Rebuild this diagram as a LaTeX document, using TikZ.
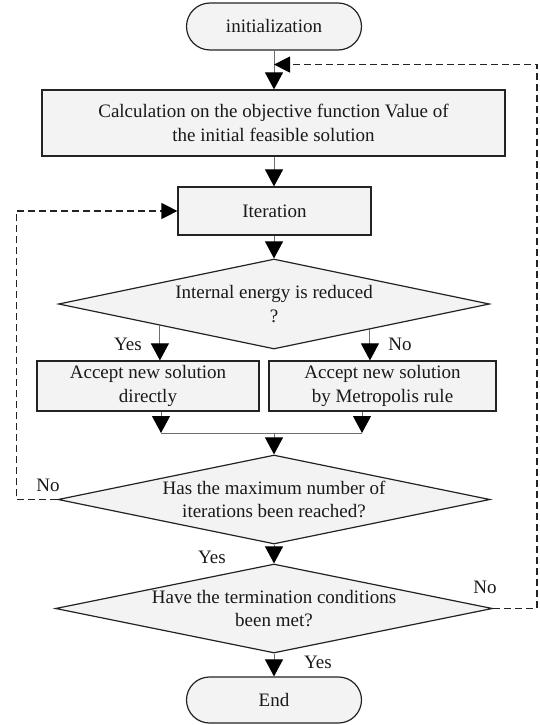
\documentclass[tikz,border=0pt]{standalone}
\usepackage{fontspec}
\setmainfont{Liberation Serif}
\usetikzlibrary{shapes.geometric,shapes.misc,arrows.meta,calc}
\definecolor{boxfill}{RGB}{242,243,242}
\definecolor{edge}{RGB}{35,35,35}
\definecolor{conn}{RGB}{110,110,110}
\begin{document}
\begin{tikzpicture}[x=1pt,y=-1pt,
  every node/.style={font=\fontsize{19}{23.5}\selectfont, text=black!90},
  term/.style={rounded rectangle, draw=edge, fill=boxfill, line width=1.2pt, minimum width=175pt, minimum height=47pt, inner sep=0pt},
  proc/.style={rectangle, draw=edge, fill=boxfill, line width=1.2pt, inner sep=0pt, align=center},
  dec/.style={diamond, draw=edge, fill=boxfill, line width=1.2pt, inner sep=-4pt, aspect=4.8, align=center},
  arr/.style={draw=conn, line width=1pt, -{Triangle[width=18pt,length=17pt,color=black]}},
  ln/.style={draw=conn, line width=1pt},
  dsh/.style={draw=edge, line width=1.2pt, dash pattern=on 7pt off 4pt, -{Triangle[width=16pt,length=16pt,color=black]}},
  lbl/.style={inner sep=0pt}]
\useasboundingbox (0,0) rectangle (539,725);

\node[term] (init) at (274,26.5) {initialization};
\node[proc, minimum width=463pt, minimum height=66pt] (calc) at (273.5,123) {Calculation on the objective function Value of\\the initial feasible solution};
\node[proc, minimum width=193pt, minimum height=48pt] (iter) at (274.5,211) {Iteration};
\node[dec, minimum width=431pt, minimum height=90pt] (d1) at (274,304) {Internal energy is reduced\\?};
\node[proc, minimum width=222pt, minimum height=50pt] (ba) at (148,386) {Accept new solution\\directly};
\node[proc, minimum width=227pt, minimum height=50pt] (bb) at (382.5,386) {Accept new solution\\by Metropolis rule};
\node[dec, minimum width=432pt, minimum height=89pt] (d2) at (274,499.5) {Has the maximum number of\\iterations been reached?};
\node[dec, minimum width=437pt, minimum height=89pt] (d3) at (274,608.5) {Have the termination conditions\\been met?};
\node[term, minimum height=46pt] (end) at (274,700) {End};

% main flow
\draw[arr] (init.south) -- (init.south |- calc.north);
\coordinate (m) at ($(init.south)!0.36!(init.south |- calc.north)$);
\draw[arr] (init.south |- calc.south) -- (init.south |- iter.north);
\draw[arr] (init.south |- iter.south) -- (d1.north);

\coordinate (ya) at ($(d1.west)!0.472!(d1.south)$);
\coordinate (na) at ($(d1.south)!0.444!(d1.east)$);
\draw[arr] (ya) -- (ya |- ba.north);
\draw[arr] (na) -- (na |- bb.north);

\coordinate (ja) at (161,433);
\coordinate (jb) at (362,433);
\coordinate (jm) at (274,433);
\draw[arr] (ja |- ba.south) -- (ja);
\draw[arr] (jb |- bb.south) -- (jb);
\draw[ln] (ja) -- (jb);
\draw[arr] (jm) -- (d2.north);
\draw[arr] (d2.south) -- (d3.north);
\draw[arr] (d3.south) -- (end.north);

% feedback loops
\coordinate (lft) at (16.5,0);
\coordinate (rgt) at (537,0);
\draw[dsh] (d2.west) -- (d2.west -| lft) |- (iter.west);
\draw[dsh] (d3.east) -- (d3.east -| rgt) |- (m);

% labels
\node[lbl] (l1) at (128,344) {Yes};
\node[lbl] (l2) at (400,344) {No};
\node[lbl] (l3) at (48,485) {No};
\node[lbl] (l4) at (212,557) {Yes};
\node[lbl] (l5) at (485,587) {No};
\node[lbl] (l6) at (318,662) {Yes};
\end{tikzpicture}
\end{document}
